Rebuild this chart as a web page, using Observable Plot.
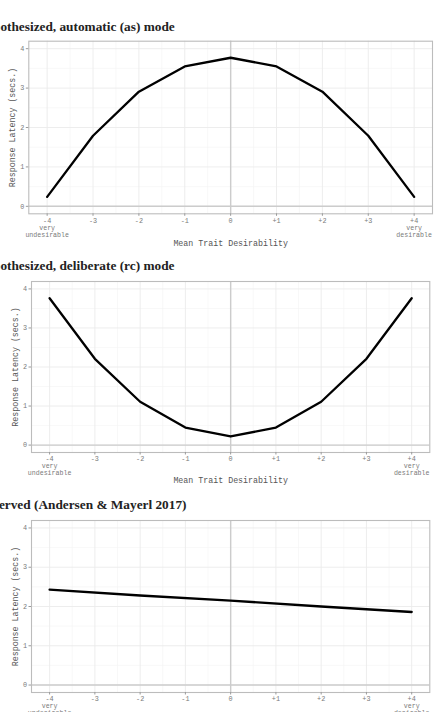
<!DOCTYPE html>
<html>
<head>
<meta charset="utf-8">
<script src="https://cdn.jsdelivr.net/npm/d3@7"></script>
<script src="https://cdn.jsdelivr.net/npm/@observablehq/plot@0.6"></script>
<style>
  html, body { margin: 0; padding: 0; background: #fff; }
  #wrap { position: relative; width: 437px; height: 712px; overflow: hidden; }
  .panel { position: absolute; left: 0; }
  .title { position: absolute; left: -24px; font-family: "Liberation Serif", "Times New Roman", serif;
           font-weight: bold; font-size: 13.3px; line-height: 16px; color: #222; white-space: nowrap; }
</style>
</head>
<body>
<div id="wrap"></div>
<script>
// ---- data ----
const xVals = [-4, -3, -2, -1, 0, 1, 2, 3, 4];
const tickLabels = ["-4", "-3", "-2", "-1", "0", "+1", "+2", "+3", "+4"];
const yTicks = [0, 1, 2, 3, 4];
const xMinor = [-3.5, -2.5, -1.5, -0.5, 0.5, 1.5, 2.5, 3.5];
const yMinor = [0.5, 1.5, 2.5, 3.5];

const automatic = [0.24, 1.79, 2.91, 3.55, 3.77, 3.55, 2.91, 1.79, 0.24];
const deliberate = [3.76, 2.21, 1.11, 0.45, 0.22, 0.45, 1.11, 2.21, 3.76];
const observedX = [-4, -2, 0, 2, 4];
const observed = [2.43, 2.28, 2.15, 2.0, 1.86];

const titles = [
  "Hypothesized, automatic (as) mode",
  "Hypothesized, deliberate (rc) mode",
  "Observed (Andersen & Mayerl 2017)"
];
const endTop = ["very", "very"];
const endBottom = ["undesirable", "desirable"];
const endX = [-4, 4];
const xTitle = "Mean Trait Desirability";
const yTitle = "Response Latency (secs.)";

const mono = "'Liberation Mono', 'DejaVu Sans Mono', monospace";

function panel(xs, ys, o) {
  const data = xs.map((x, i) => ({x, y: ys[i]}));
  return Plot.plot({
    width: 437, height: o.height,
    marginTop: o.mt, marginBottom: o.mb, marginLeft: o.ml, marginRight: o.mr,
    x: {domain: [-4.4, 4.4]},
    y: {domain: [-0.19, 4.19]},
    style: {background: "transparent", fontFamily: mono, color: "#808080", overflow: "visible"},
    marks: [
      Plot.gridX(xMinor, {stroke: "#f4f4f4", strokeOpacity: 1, strokeWidth: 0.6}),
      Plot.gridY(yMinor, {stroke: "#f4f4f4", strokeOpacity: 1, strokeWidth: 0.6}),
      Plot.gridX(xVals, {stroke: "#ebebeb", strokeOpacity: 1, strokeWidth: 0.9}),
      Plot.gridY(yTicks, {stroke: "#ebebeb", strokeOpacity: 1, strokeWidth: 0.9}),
      Plot.ruleX([0], {stroke: "#cccccc", strokeWidth: 1.4}),
      Plot.ruleY([0], {stroke: "#cccccc", strokeWidth: 1.4}),
      Plot.line(data, {x: "x", y: "y", stroke: "#000", strokeWidth: 2.3, strokeLinejoin: "round"}),
      Plot.frame({stroke: "#bcbcbc", strokeWidth: 1.1}),
      Plot.axisX(xVals, {tickFormat: d => tickLabels[xVals.indexOf(d)], tickSize: 2.5, tickPadding: 1.5,
        fontSize: 6.8, fill: "#7a7a7a", stroke: "#9a9a9a", label: null}),
      Plot.axisY(yTicks, {tickSize: 2.5, tickPadding: 2, fontSize: 6.8, fill: "#7a7a7a", stroke: "#9a9a9a", label: null}),
      Plot.text(endTop, {x: endX, frameAnchor: "bottom", dy: o.d1, lineAnchor: "middle",
        fontSize: 6.6, fill: "#7a7a7a", fontFamily: mono}),
      Plot.text(endBottom, {x: endX, frameAnchor: "bottom", dy: o.d2, lineAnchor: "middle",
        fontSize: 6.6, fill: "#7a7a7a", fontFamily: mono}),
      Plot.text([xTitle], {frameAnchor: "bottom", dy: o.d3, lineAnchor: "middle",
        fontSize: 8.3, fill: "#555", fontFamily: mono}),
      Plot.text([yTitle], {frameAnchor: "left", dx: -16.5, rotate: -90, textAnchor: "middle", lineAnchor: "middle",
        fontSize: 8.3, fill: "#555", fontFamily: mono})
    ]
  });
}

const wrap = document.getElementById("wrap");
const specs = [
  {xs: xVals, ys: automatic, top: 0, titleTop: 19,
   o: {height: 255, mt: 40.7, mb: 255 - 213.3, ml: 28.3, mr: 437 - 432, d1: 14.2, d2: 21.2, d3: 30}},
  {xs: xVals, ys: deliberate, top: 240, titleTop: 18,
   o: {height: 255, mt: 41, mb: 255 - 212, ml: 31, mr: 437 - 429.3, d1: 13.2, d2: 20.3, d3: 28}},
  {xs: observedX, ys: observed, top: 480, titleTop: 17,
   o: {height: 232, mt: 40, mb: 232 - 212, ml: 31, mr: 437 - 429.3, d1: 13, d2: 20, d3: 28}}
];
specs.forEach((s, i) => {
  const div = document.createElement("div");
  div.className = "panel";
  div.style.top = s.top + "px";
  div.appendChild(panel(s.xs, s.ys, s.o));
  wrap.appendChild(div);
  const t = document.createElement("div");
  t.className = "title";
  t.style.top = (s.top + s.titleTop) + "px";
  t.textContent = titles[i];
  wrap.appendChild(t);
});
</script>
</body>
</html>
